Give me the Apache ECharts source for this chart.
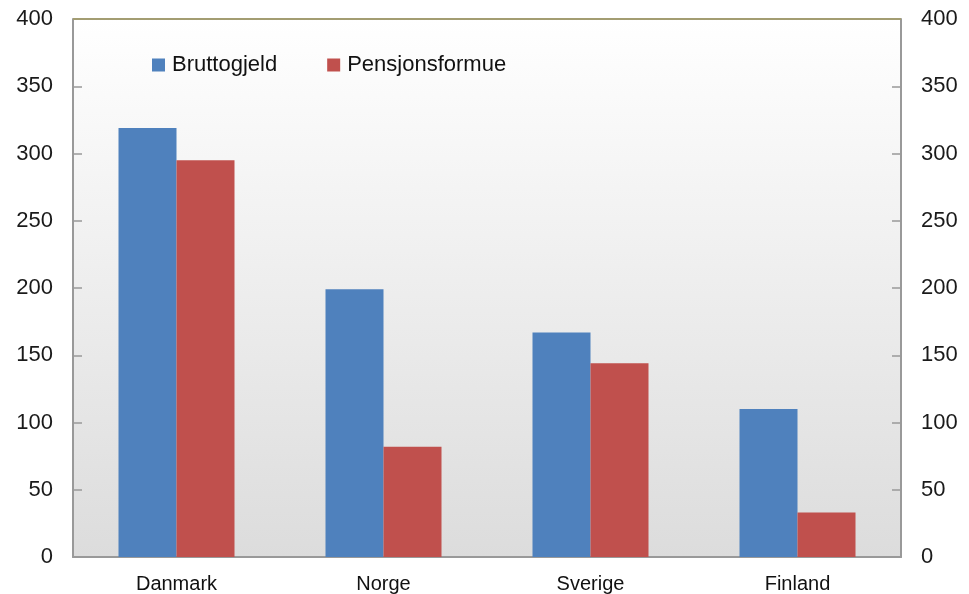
<!DOCTYPE html>
<html>
<head>
<meta charset="utf-8">
<script src="https://cdn.jsdelivr.net/npm/echarts@6/dist/echarts.min.js"></script>
<style>
	html,body{margin:0;padding:0;background:#fff;}
	#chart{width:969px;height:594px;}
</style>
</head>
<body>
<div id="chart"></div>
<script>
	const countries=["Danmark","Norge","Sverige","Finland"];
	const bruttogjeld=[319,199,167,110];	//blå
	const pensjonsformue=[295,82,144,33];	//rød

	const chart=echarts.init(document.getElementById("chart"));
	const font="'Liberation Sans', Arial, sans-serif";
	const yAxisBase={
		type:"value",
		min:0,
		max:400,
		interval:50,
		axisLine:{show:true,lineStyle:{color:"#999",width:2}},
		axisTick:{show:true,inside:true,length:9,lineStyle:{color:"#999",width:1.5}},
		splitLine:{show:false},
		axisLabel:{color:"#1a1a1a",fontSize:22,fontFamily:font,margin:20}
	};
	const option={
		animation:false,
		grid:{
			left:73,right:68,top:19,bottom:36,
			show:true,
			borderWidth:0,
			backgroundColor:new echarts.graphic.LinearGradient(0,0,0,1,[
				{offset:0,color:"#ffffff"},
				{offset:1,color:"#dcdcdc"}
			])
		},
		legend:{
			left:152,top:54,
			padding:0,
			itemWidth:13,itemHeight:13,itemGap:50,
			icon:"rect",
			textStyle:{color:"#111",fontSize:22,fontFamily:font,padding:[0,0,0,2]},
			data:["Bruttogjeld","Pensjonsformue"]
		},
		xAxis:{
			type:"category",
			data:countries,
			axisLine:{lineStyle:{color:"#999",width:2}},
			axisTick:{show:false},
			axisLabel:{color:"#111",fontSize:20,fontFamily:font,margin:17}
		},
		yAxis:[
			Object.assign({},yAxisBase,{position:"left"}),
			Object.assign({},yAxisBase,{position:"right"})
		],
		series:[
			{
				name:"Bruttogjeld",
				type:"bar",
				data:bruttogjeld,
				barWidth:58,
				barGap:"0%",
				itemStyle:{color:"#4f81bd"}
			},
			{
				name:"Pensjonsformue",
				type:"bar",
				data:pensjonsformue,
				barWidth:58,
				barGap:"0%",
				itemStyle:{color:"#c0504d"}
			}
		],
		graphic:[
			{
				type:"line",
				shape:{x1:73,y1:19,x2:901,y2:19},
				style:{stroke:"#a39d72",lineWidth:2},
				z:100
			}
		]
	};
	chart.setOption(option);
	window.addEventListener("resize",chart.resize);
</script>
</body>
</html>
